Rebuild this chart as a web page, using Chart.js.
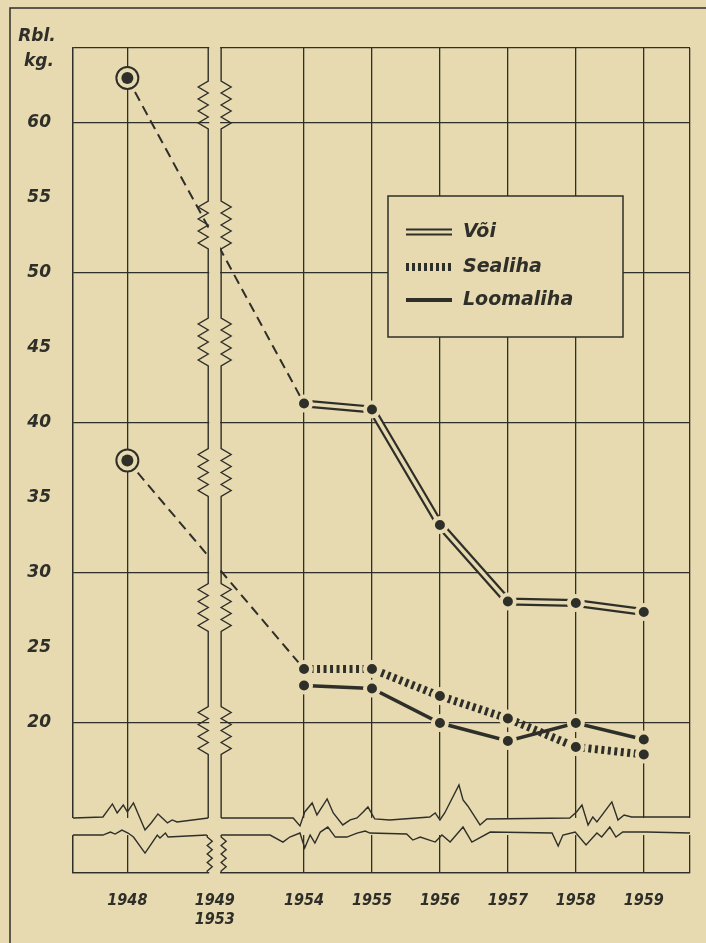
<!DOCTYPE html>
<html>
<head>
<meta charset="utf-8">
<script src="https://cdn.jsdelivr.net/npm/chart.js@4.4.1/dist/chart.umd.min.js"></script>
<style>
	html, body { margin: 0; padding: 0; background: #e7dab1; }
	canvas { display: block; }
</style>
</head>
<body>
<canvas id="chart" width="706" height="943"></canvas>
<script>
var years = [1948, 1954, 1955, 1956, 1957, 1958, 1959];
var voi = [63.0, 41.3, 40.9, 33.2, 28.1, 28.0, 27.4];
var sealiha = [37.5, 23.6, 23.6, 21.8, 20.3, 18.4, 17.9];
var loomaliha = [null, 22.5, 22.3, 20.0, 18.8, 20.0, 18.9];
var yTicks = [20, 25, 30, 35, 40, 45, 50, 55, 60];
var unitLabel = ['Rbl.', 'kg.'];
var breakLabel = ['1949', '1953'];
var seriesNames = ['Või', 'Sealiha', 'Loomaliha'];

var ink = '#2f2f29';
var paper = '#e7dab1';

// 1949-1953 are squeezed into the axis break
function xPos(year) { return year < 1954 ? year - 1954 + 3.4 : year - 1954; }
var breakFrom = -1.41, breakTo = -1.22;
var breakMid = (breakFrom + breakTo) / 2;

function pts(values, from, to) {
	var out = [];
	for (var i = from; i < to; i++) {
		if (values[i] !== null) out.push({ x: xPos(years[i]), y: values[i] });
	}
	return out;
}

// wavy bottom strip, [axis position, pixel offset]
var stripUpper = [
	[-3.40, 0], [-2.96, -1], [-2.82, -14], [-2.75, -5], [-2.66, -13], [-2.60, -6], [-2.51, -15],
	[-2.34, 12], [-2.25, 5], [-2.15, -4], [-2.07, 1], [-2.01, 5], [-1.94, 2], [-1.87, 4], [-1.41, 0]
];
var stripUpper2 = [
	[-1.22, 0], [-0.16, 0], [-0.06, 8], [0.01, -6], [0.12, -15], [0.19, -3], [0.34, -19], [0.43, -5],
	[0.57, 7], [0.68, 2], [0.78, 0], [0.87, -6], [0.94, -11], [1.04, 1], [1.26, 2], [1.85, -1],
	[1.93, -5], [2.0, 2], [2.07, -5], [2.28, -33], [2.34, -18], [2.41, -12], [2.59, 7], [2.69, 1],
	[3.91, 0], [4.01, -6], [4.09, -13], [4.18, 7], [4.25, -1], [4.31, 4], [4.53, -16], [4.62, 2],
	[4.71, -3], [4.82, -1], [5.68, -1]
];
var stripLower = [
	[-3.40, 0], [-2.96, 0], [-2.85, -3], [-2.78, -1], [-2.68, -5], [-2.59, -2], [-2.51, 2],
	[-2.34, 18], [-2.24, 8], [-2.16, 0], [-2.12, 3], [-2.04, -2], [-2.00, 2], [-1.43, 0]
];
var stripLower2 = [
	[-1.22, 0], [-0.50, 0], [-0.31, 7], [-0.21, 2], [-0.06, -2], [0.01, 13], [0.09, 0], [0.16, 8],
	[0.24, -3], [0.35, -8], [0.46, 2], [0.63, 2], [0.78, -2], [0.90, -4], [0.97, -2], [1.51, -1],
	[1.60, 5], [1.71, 2], [1.93, 7], [2.03, 0], [2.15, 7], [2.34, -8], [2.47, 7], [2.74, -3],
	[3.65, -2], [3.74, 11], [3.81, 0], [3.99, -3], [4.15, 10], [4.31, -2], [4.38, 2], [4.50, -8],
	[4.59, 2], [4.69, -3], [5.04, -3], [5.68, -2]
];
var zigCenters = [61.2, 53.2, 45.4, 36.7, 27.7, 19.5];

function polyline(ctx, xs, list, base) {
	ctx.beginPath();
	list.forEach(function (p, i) {
		var x = xs.getPixelForValue(p[0]), y = base + p[1];
		if (i === 0) ctx.moveTo(x, y); else ctx.lineTo(x, y);
	});
	ctx.stroke();
}

function zigLine(ctx, x, top, bottom, centers, dir, amp, h) {
	ctx.beginPath();
	ctx.moveTo(x, top);
	centers.forEach(function (c) {
		ctx.lineTo(x, c - h / 2);
		for (var k = 1; k <= 8; k++) {
			ctx.lineTo(k % 2 ? x + dir * amp : x, c - h / 2 + k * h / 8);
		}
	});
	ctx.lineTo(x, bottom);
	ctx.stroke();
}

var paperPlugin = {
	id: 'paper',
	beforeDraw: function (chart) {
		var ctx = chart.ctx;
		ctx.save();
		ctx.fillStyle = paper;
		ctx.fillRect(0, 0, chart.width, chart.height);
		// outer frame
		ctx.strokeStyle = ink;
		ctx.lineWidth = 1.5;
		ctx.beginPath();
		ctx.moveTo(10, chart.height);
		ctx.lineTo(10, 8);
		ctx.lineTo(chart.width, 8);
		ctx.stroke();
		ctx.restore();
	},
	beforeDatasetsDraw: function (chart) {
		var ctx = chart.ctx, a = chart.chartArea;
		var xs = chart.scales.x, ys = chart.scales.y;
		var up = ys.getPixelForValue(13.67), lo = ys.getPixelForValue(12.53);
		ctx.save();
		ctx.fillStyle = paper;
		ctx.fillRect(a.left - 2, up, a.right - a.left + 4, lo - up);
		ctx.strokeStyle = ink;
		ctx.lineWidth = 1.4;
		ctx.lineJoin = 'miter';
		polyline(ctx, xs, stripUpper, up);
		polyline(ctx, xs, stripUpper2, up);
		polyline(ctx, xs, stripLower, lo);
		polyline(ctx, xs, stripLower2, lo);
		// units
		ctx.fillStyle = ink;
		ctx.font = 'italic bold 17px "DejaVu Sans"';
		ctx.textAlign = 'center';
		ctx.fillText(unitLabel[0], 37, 41);
		ctx.fillText(unitLabel[1], 39, 66);
		ctx.restore();
	},
	afterDatasetsDraw: function (chart) {
		var ctx = chart.ctx, a = chart.chartArea;
		var xs = chart.scales.x, ys = chart.scales.y;
		var x1 = xs.getPixelForValue(breakFrom), x2 = xs.getPixelForValue(breakTo);
		var up = ys.getPixelForValue(13.67), lo = ys.getPixelForValue(12.53);
		ctx.save();
		// axis break
		ctx.fillStyle = paper;
		ctx.fillRect(x1 + 1, a.top - 2, x2 - x1 - 2, a.bottom - a.top + 4);
		ctx.strokeStyle = ink;
		ctx.lineWidth = 1.4;
		var cs = zigCenters.map(function (v) { return ys.getPixelForValue(v); });
		zigLine(ctx, x1, a.top, up, cs, -1, 10, 48);
		zigLine(ctx, x2, a.top, up, cs, 1, 10, 48);
		var mid = (lo + a.bottom) / 2;
		zigLine(ctx, x1 - 1, lo, a.bottom, [mid], 1, 5, 34);
		zigLine(ctx, x2, lo, a.bottom, [mid], 1, 5, 34);

		// legend
		var bx = a.left + 315, by = a.top + 148, bw = 235, bh = 141;
		ctx.fillStyle = paper;
		ctx.fillRect(bx, by, bw, bh);
		ctx.lineWidth = 1.5;
		ctx.strokeRect(bx, by, bw, bh);
		var rows = [by + 36, by + 71, by + 104];
		var sx1 = bx + 18, sx2 = bx + 64;
		ctx.lineCap = 'butt';
		// Või
		ctx.strokeStyle = ink; ctx.lineWidth = 7;
		ctx.beginPath(); ctx.moveTo(sx1, rows[0]); ctx.lineTo(sx2, rows[0]); ctx.stroke();
		ctx.strokeStyle = paper; ctx.lineWidth = 3;
		ctx.beginPath(); ctx.moveTo(sx1 - 1, rows[0]); ctx.lineTo(sx2 + 1, rows[0]); ctx.stroke();
		// Sealiha
		ctx.strokeStyle = ink; ctx.lineWidth = 8;
		ctx.setLineDash([3, 3]);
		ctx.beginPath(); ctx.moveTo(sx1, rows[1]); ctx.lineTo(sx2, rows[1]); ctx.stroke();
		ctx.setLineDash([]);
		// Loomaliha
		ctx.lineWidth = 4;
		ctx.beginPath(); ctx.moveTo(sx1, rows[2]); ctx.lineTo(sx2, rows[2]); ctx.stroke();
		ctx.fillStyle = ink;
		ctx.font = 'italic bold 19px "DejaVu Sans"';
		ctx.textAlign = 'left';
		ctx.textBaseline = 'middle';
		seriesNames.forEach(function (n, i) { ctx.fillText(n, bx + 75, rows[i]); });
		ctx.restore();
	}
};

var ctx = document.getElementById('chart').getContext('2d');
var n = years.length;
var chart = new Chart(ctx, {
	type: 'line',
	data: {
		datasets: [{
			label: 'connector Või',
			data: pts(voi, 0, 2),
			borderColor: ink, borderWidth: 2, borderDash: [10, 6],
			pointRadius: 0, order: 8
		}, {
			label: 'connector Sealiha',
			data: pts(sealiha, 0, 2),
			borderColor: ink, borderWidth: 2, borderDash: [10, 6],
			pointRadius: 0, order: 8
		}, {
			label: seriesNames[0] + ' outer',
			data: pts(voi, 1, n),
			borderColor: ink, borderWidth: 8,
			pointRadius: 0, order: 6
		}, {
			label: seriesNames[0],
			data: pts(voi, 1, n),
			borderColor: paper, borderWidth: 3.5,
			pointRadius: 7, pointBorderWidth: 4,
			pointBackgroundColor: ink, pointBorderColor: paper,
			order: 5
		}, {
			label: seriesNames[1],
			data: pts(sealiha, 1, n),
			borderColor: ink, borderWidth: 8, borderDash: [3, 3.5],
			pointRadius: 7, pointBorderWidth: 4,
			pointBackgroundColor: ink, pointBorderColor: paper,
			order: 4
		}, {
			label: seriesNames[2],
			data: pts(loomaliha, 1, n),
			borderColor: ink, borderWidth: 3.5,
			pointRadius: 7, pointBorderWidth: 4,
			pointBackgroundColor: ink, pointBorderColor: paper,
			order: 3
		}, {
			label: '1948 ring',
			data: [{ x: xPos(years[0]), y: voi[0] }, { x: xPos(years[0]), y: sealiha[0] }],
			showLine: false,
			pointRadius: 11, pointBorderWidth: 2,
			pointBackgroundColor: paper, pointBorderColor: ink,
			order: 2
		}, {
			label: '1948 dot',
			data: [{ x: xPos(years[0]), y: voi[0] }, { x: xPos(years[0]), y: sealiha[0] }],
			showLine: false,
			pointRadius: 6, pointBorderWidth: 0,
			pointBackgroundColor: ink,
			order: 1
		}]
	},
	options: {
		responsive: false,
		animation: false,
		devicePixelRatio: 1,
		layout: { padding: { top: 48, right: 16, left: 0, bottom: 0 } },
		plugins: { legend: { display: false }, tooltip: { enabled: false } },
		scales: {
			x: {
				type: 'linear',
				min: -3.4,
				max: 5.68,
				afterBuildTicks: function (s) {
					var t = [-3.4, xPos(1948), breakMid];
					for (var i = 1; i < years.length; i++) t.push(xPos(years[i]));
					t.push(5.68);
					s.ticks = t.map(function (v) { return { value: v }; });
				},
				afterFit: function (s) { s.height = 70; s.paddingLeft = 0; s.paddingRight = 0; },
				ticks: {
					autoSkip: false,
					maxRotation: 0,
					padding: 18,
					color: ink,
					font: { family: '"DejaVu Sans Condensed", "DejaVu Sans"', size: 16, style: 'italic', weight: 'bold' },
					callback: function (v) {
						if (Math.abs(v - breakMid) < 1e-6) return breakLabel;
						for (var i = 0; i < years.length; i++) {
							if (Math.abs(v - xPos(years[i])) < 1e-6) return String(years[i]);
						}
						return '';
					}
				},
				grid: {
					drawTicks: false,
					lineWidth: 1.3,
					color: function (c) {
						return c.tick && Math.abs(c.tick.value - breakMid) < 1e-6 ? 'rgba(0,0,0,0)' : ink;
					}
				},
				border: { color: ink, width: 1.3 }
			},
			y: {
				min: 10,
				max: 65,
				afterBuildTicks: function (s) {
					var t = [];
					for (var v = 10; v <= 65; v += 5) t.push({ value: v });
					s.ticks = t;
				},
				afterFit: function (s) { s.width = 73; },
				ticks: {
					padding: 22,
					color: ink,
					font: { family: '"DejaVu Sans"', size: 17, style: 'italic', weight: 'bold' },
					callback: function (v) { return yTicks.indexOf(v) >= 0 ? String(v) : ''; }
				},
				grid: {
					drawTicks: false,
					lineWidth: 1.3,
					color: function (c) {
						var v = c.tick ? c.tick.value : 0;
						return (v % 10 === 0 || v === 65) ? ink : 'rgba(0,0,0,0)';
					}
				},
				border: { color: ink, width: 1.3 }
			}
		}
	},
	plugins: [paperPlugin]
});
</script>
</body>
</html>
